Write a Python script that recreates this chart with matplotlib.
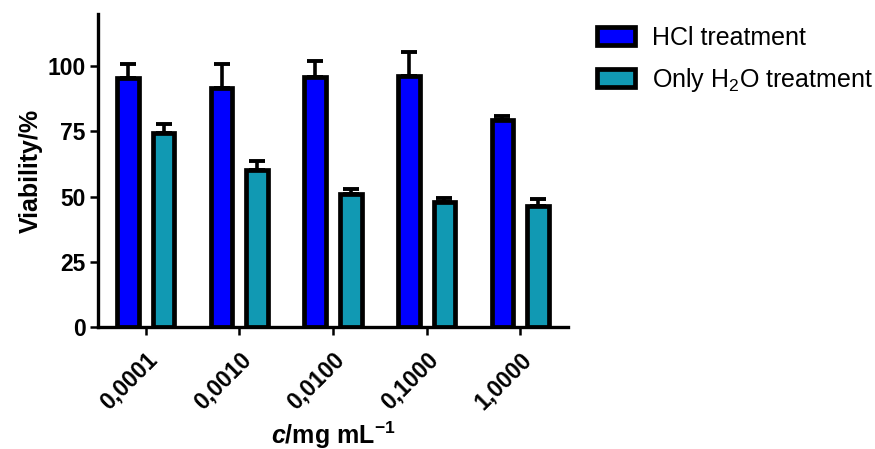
import numpy as np
import matplotlib
matplotlib.use("Agg")
import matplotlib.pyplot as plt

plt.rcParams['font.family'] = ['Liberation Sans', 'DejaVu Sans']
plt.rcParams['mathtext.fontset'] = 'custom'
plt.rcParams['mathtext.it'] = 'Liberation Sans:italic:bold'
plt.rcParams['mathtext.rm'] = 'Liberation Sans'

# concentrations (mg/mL) and cell viability in %
conc_labels = ["0,0001", "0,0010", "0,0100", "0,1000", "1,0000"]
hcl_mean = [95.5, 91.7, 95.8, 96.2, 79.5]
hcl_sd = [5.4, 9.3, 6.0, 9.2, 1.3]
water_mean = [74.5, 60.3, 50.9, 48.1, 46.2]
water_sd = [3.3, 3.5, 2.0, 1.3, 3.0]

blue = "#0000ff"
teal = "#1199b3"

fig = plt.figure(figsize=(8.75, 4.49), dpi=100)
ax = fig.add_axes([98/875, 1 - 327/449, (568 - 98)/875, (327 - 14)/449])

x = np.arange(len(conc_labels))
w = 0.23
off = 0.19
lw = 3.4

err_kw = dict(elinewidth=2.6, capthick=2.8, capsize=5.8, ecolor="black")
ax.bar(x - off, hcl_mean, w, color=blue, edgecolor="black", linewidth=lw,
       yerr=[np.zeros(len(x)), hcl_sd], error_kw=err_kw, label="HCl treatment")
ax.bar(x + off, water_mean, w, color=teal, edgecolor="black", linewidth=lw,
       yerr=[np.zeros(len(x)), water_sd], error_kw=err_kw,
       label=r"Only H$_\mathregular{2}$O treatment")

ax.set_xlim(-0.51, 4.51)
ax.set_ylim(0, 120)
ax.set_yticks([0, 25, 50, 75, 100])
ax.set_xticks(x)
ax.set_xticklabels(conc_labels, rotation=45, ha="right", rotation_mode="anchor",
                   fontsize=16.5, fontweight="bold")
for lab in ax.get_yticklabels():
    lab.set_fontsize(16.5)
    lab.set_fontweight("bold")

for side in ["top", "right"]:
    ax.spines[side].set_visible(False)
for side in ["left", "bottom"]:
    ax.spines[side].set_linewidth(2.4)
ax.tick_params(direction="out", length=6, width=1.8)
ax.tick_params(axis="y", pad=3)
ax.tick_params(axis="x", pad=9)

ax.set_ylabel("Viability/%", fontsize=18, fontweight="bold", labelpad=3)
ax.set_xlabel(r"$\mathit{c}$/mg mL$^{\mathregular{-1}}$", fontsize=18,
              fontweight="bold", labelpad=4)

ax.legend(loc="upper left", bbox_to_anchor=(597/875, 1 - 26/449),
          bbox_transform=fig.transFigure, frameon=False, fontsize=18,
          handlelength=1.52, handleheight=0.72, handletextpad=0.68,
          labelspacing=0.62, borderaxespad=0, borderpad=0)

fig.savefig("out.png", dpi=100)
